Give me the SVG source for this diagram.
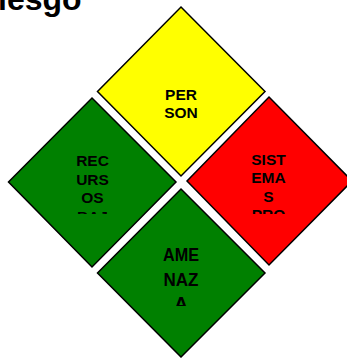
<svg xmlns="http://www.w3.org/2000/svg" width="347" height="358" viewBox="0 0 347 358">
<style>
.d{stroke:#000;stroke-width:1.5}
.t{font-family:"Liberation Sans",Arial,sans-serif;font-weight:bold;fill:#000;text-anchor:middle}
.s{font-size:15.5px}
.b{font-size:19px}
</style>
<defs>
<clipPath id="cl"><rect x="60" y="140" width="65" height="74"/></clipPath>
<clipPath id="cr"><rect x="237" y="140" width="65" height="74"/></clipPath>
<clipPath id="cb"><rect x="150" y="235" width="62" height="71"/></clipPath>
</defs>
<rect width="347" height="358" fill="#fff"/>
<text class="t" x="-2" y="9.5" style="font-size:32px;text-anchor:start">iesgo</text>
<g id="personas">
<polygon class="d" fill="#FFFF00" points="181,7 265,91.5 181,176 97.5,91.5"/>
<text class="t s" x="181" y="100">PER</text>
<text class="t s" x="181" y="118">SON</text>
</g>
<g id="recursos">
<polygon class="d" fill="#008000" points="92,98 176,182 92,267 8.5,182"/>
<g clip-path="url(#cl)">
<text class="t s" x="92.5" y="166">REC</text>
<text class="t s" x="92.5" y="184.5">URS</text>
<text class="t s" x="92.5" y="203">OS</text>
<text class="t s" x="92.5" y="221.5">BAJ</text>
</g>
</g>
<g id="sistemas">
<polygon class="d" fill="#FF0000" points="269,97 352,181 269,265 187,181"/>
<g clip-path="url(#cr)">
<text class="t s" x="268.5" y="164.5">SIST</text>
<text class="t s" x="268.5" y="183">EMA</text>
<text class="t s" x="268.5" y="201.5">S</text>
<text class="t s" x="268.5" y="220">PRO</text>
</g>
</g>
<g id="amenaza">
<polygon class="d" fill="#008000" points="181,189 265,273 181,357 97.5,273"/>
<g clip-path="url(#cb)">
<text class="t b" x="181" y="261" textLength="36" lengthAdjust="spacingAndGlyphs">AME</text>
<text class="t b" x="181" y="285.6" textLength="35" lengthAdjust="spacingAndGlyphs">NAZ</text>
<text class="t b" x="181" y="310.2">A</text>
</g>
</g>
<g id="connectors"></g>
</svg>
